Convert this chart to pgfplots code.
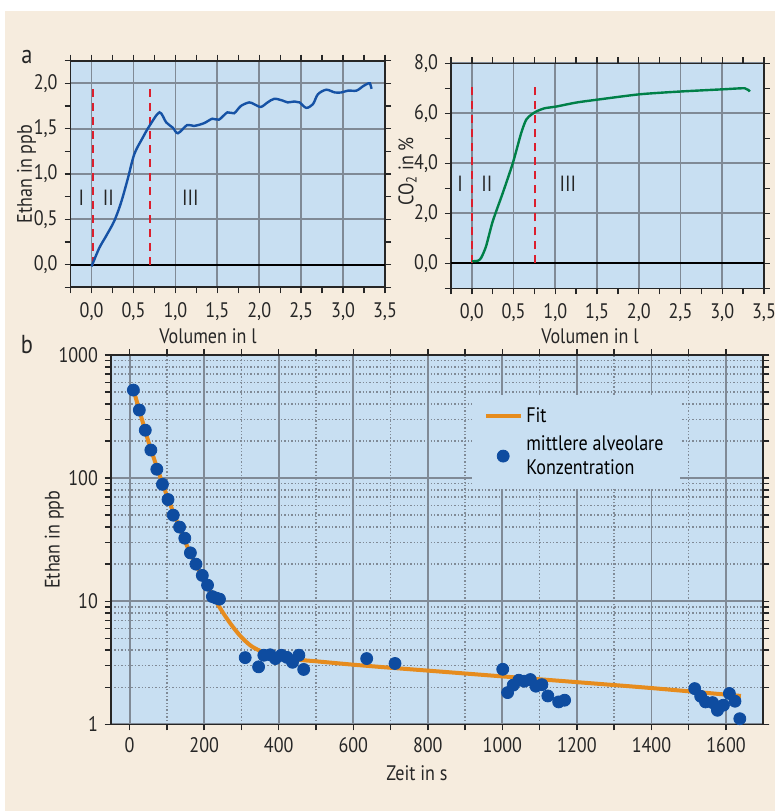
\documentclass[border=0pt]{standalone}
\usepackage{fontspec}
\setmainfont{PT Sans}[FakeStretch=0.86]
\usepackage{pgfplots}
\pgfplotsset{compat=1.18}
\definecolor{bgbeige}{RGB}{246,236,222}
\definecolor{axisblue}{RGB}{200,223,242}
\definecolor{gridgray}{RGB}{128,138,150}
\definecolor{curveblue}{RGB}{22,82,165}
\definecolor{curvegreen}{RGB}{0,128,72}
\definecolor{dashred}{RGB}{220,30,45}
\definecolor{fitorange}{RGB}{230,140,30}
\definecolor{dotblue}{RGB}{14,76,160}
\begin{document}
\begin{tikzpicture}[x=1pt,y=1pt]
\useasboundingbox (0,0) rectangle (387.5,405.5);
\fill[white] (0,0) rectangle (387.5,405.5);
\fill[bgbeige] (2.5,0) rectangle (387.5,400);
\pgfplotsset{
  common/.style={
    scale only axis,
    axis background/.style={fill=axisblue},
    axis line style={black!85, line width=0.8pt},
    tick style={black!85, line width=0.7pt},
    major tick length=3pt, minor tick length=3pt,
    tick align=outside,
    xtick pos=both, ytick pos=both,
    major grid style={gridgray, line width=0.9pt},
    minor grid style={gridgray, line width=0.7pt, densely dotted},
    tick label style={font=\fontsize{10.5}{12}\selectfont, black!85},
    label style={font=\fontsize{10.5}{12}\selectfont, black!85},
    /pgf/number format/assume math mode=true,
    /pgf/number format/1000 sep={},
  },
  topax/.style={
    common,
    grid=major,
    xmin=-0.25, xmax=3.5,
    xtick={0,0.5,...,3.5},
    minor xtick={-0.25,0.25,0.75,1.25,1.75,2.25,2.75,3.25},
    xticklabel style={yshift=-1pt, /pgf/number format/.cd, fixed, fixed zerofill, precision=1, use comma},
    yticklabel style={/pgf/number format/.cd, fixed, fixed zerofill, precision=1, use comma},
    xlabel={Volumen in l},
  }
}
% ---------------- a: Ethan ----------------
\begin{axis}[topax,
  at={(35.3pt,261.85pt)}, anchor=south west,
  width=157.2pt, height=113.3pt,
  ymin=-0.25, ymax=2.25,
  ytick={0,0.5,...,2.0},
  minor ytick={-0.25,0.25,0.75,1.25,1.75,2.25},
  ylabel={Ethan in ppb},
  ylabel style={at={(axis description cs:-0.14,0.5)}, anchor=center},
  xlabel style={at={(axis description cs:0.437,-0.215)}, anchor=center},
]
\addplot[black, line width=0.9pt] coordinates {(-0.25,0) (3.5,0)};
\addplot[dashred, line width=0.9pt, dash pattern=on 4pt off 3pt] coordinates {(0.02,0) (0.02,2.0)};
\addplot[dashred, line width=0.9pt, dash pattern=on 4pt off 3pt] coordinates {(0.70,0) (0.70,2.0)};
\addplot[curveblue, line width=1.2pt, smooth, tension=0.5] coordinates {
(0.00,-0.02) (0.09,0.18) (0.17,0.31) (0.27,0.48) (0.35,0.68) (0.43,0.94)
(0.51,1.22) (0.61,1.40) (0.69,1.53) (0.81,1.68) (0.89,1.57) (0.97,1.51)
(1.03,1.45) (1.14,1.54) (1.22,1.53) (1.34,1.56) (1.44,1.61) (1.52,1.60)
(1.62,1.68) (1.70,1.67) (1.78,1.75) (1.88,1.79) (1.94,1.77) (2.02,1.74)
(2.10,1.79) (2.18,1.83) (2.28,1.81) (2.34,1.79) (2.42,1.80) (2.48,1.79)
(2.56,1.73) (2.64,1.77) (2.70,1.88) (2.80,1.93) (2.90,1.90) (2.98,1.90)
(3.06,1.92) (3.16,1.92) (3.24,1.97) (3.30,2.00) (3.32,2.00) (3.34,1.94)
};
\node[font=\fontsize{11}{13}\selectfont, black!85] at (axis cs:-0.12,0.74) {I};
\node[font=\fontsize{11}{13}\selectfont, black!85] at (axis cs:0.20,0.74) {II};
\node[font=\fontsize{11}{13}\selectfont, black!85] at (axis cs:1.18,0.74) {III};
\end{axis}
% ---------------- a: CO2 ----------------
\begin{axis}[topax,
  at={(225.5pt,261.35pt)}, anchor=south west,
  width=156.5pt, height=112.5pt,
  ymin=-1, ymax=8,
  ytick={0,2,...,8},
  minor ytick={-1,1,3,5,7},
  ylabel={CO\textsubscript{2} in \%},
  ylabel style={at={(axis description cs:-0.139,0.52)}, anchor=center},
  xlabel style={at={(axis description cs:0.444,-0.215)}, anchor=center},
]
\addplot[black, line width=0.9pt] coordinates {(-0.25,0) (3.5,0)};
\addplot[dashred, line width=0.9pt, dash pattern=on 4pt off 3pt] coordinates {(0.0,0) (0.0,7.2)};
\addplot[dashred, line width=0.9pt, dash pattern=on 4pt off 3pt] coordinates {(0.76,0) (0.76,7.2)};
\addplot[curvegreen, line width=1.2pt, smooth, tension=0.4] coordinates {
(0.00,0.08) (0.07,0.10) (0.11,0.21) (0.17,0.68) (0.25,1.68) (0.37,2.81)
(0.49,4.00) (0.59,5.20) (0.65,5.74) (0.71,5.94) (0.77,6.07) (0.87,6.20)
(1.01,6.27) (1.25,6.43) (1.49,6.54) (2.01,6.76) (2.49,6.87) (3.01,6.96)
(3.27,7.00) (3.33,6.87)
};
\node[font=\fontsize{11}{13}\selectfont, black!85] at (axis cs:-0.14,3.2) {I};
\node[font=\fontsize{11}{13}\selectfont, black!85] at (axis cs:0.18,3.2) {II};
\node[font=\fontsize{11}{13}\selectfont, black!85] at (axis cs:1.15,3.2) {III};
\end{axis}
% ---------------- b ----------------
\begin{axis}[common,
  at={(55.5pt,43.35pt)}, anchor=south west,
  width=326.15pt, height=184.65pt,
  ymode=log, ymin=1, ymax=1000,
  xmin=-50, xmax=1700,
  xtick={0,200,...,1600},
  minor xtick={100,300,...,1500},
  ytick={1,10,100,1000}, yticklabels={1,10,100,1000},
  grid=both,
  xlabel={Zeit in s}, ylabel={Ethan in ppb},
  ylabel style={at={(axis description cs:-0.087,0.5)}, anchor=center},
  xlabel style={at={(axis description cs:0.469,-0.132)}, anchor=center},
  legend style={at={(0.553,0.892)}, anchor=north west, fill=axisblue, draw=none,
    font=\fontsize{10.5}{12}\selectfont, cells={anchor=west, align=left},
    inner xsep=6pt, inner ysep=4pt, row sep=1pt},
]
\addplot[fitorange, line width=2pt, smooth, tension=0.5] coordinates {
(10,525) (25,365) (50,200) (75,118) (100,72) (125,46) (150,30) (175,20.5)
(200,14.8) (225,10.8) (250,8.1) (275,6.3) (300,5.1) (325,4.35) (350,3.95)
(375,3.7) (400,3.52) (450,3.35) (500,3.25) (600,3.05) (700,2.88) (800,2.73)
(1000,2.45) (1200,2.2) (1400,1.97) (1640,1.70)
};
\addlegendentry{Fit}
\addplot[only marks, mark=*, mark size=3pt, mark options={draw=dotblue, fill=dotblue}] coordinates {
(10,519) (26,357) (42,245) (57,169) (73,118) (88,89) (103,67) (117,50)
(134,40) (148,32.5) (163,24.7) (178,20) (195,16.2) (209,13.5)
(222,10.9) (232,10.6) (241,10.4)
(310,3.48) (346,2.93) (360,3.64) (377,3.67) (391,3.42) (407,3.64) (422,3.5)
(437,3.19) (454,3.64) (467,2.79)
(636,3.42) (712,3.12)
(1001,2.8) (1014,1.81) (1029,2.08) (1044,2.28) (1059,2.24) (1075,2.31)
(1090,2.04) (1106,2.1) (1122,1.70) (1151,1.52) (1167,1.57)
(1516,1.95) (1532,1.69) (1545,1.52) (1564,1.5) (1577,1.30) (1593,1.43)
(1609,1.78) (1624,1.54) (1637,1.11)
};
\addlegendentry{mittlere alveolare\\Konzentration}
\end{axis}
\node[font=\fontsize{13}{15}\selectfont, black!85] at (13.5,377) {a};
\node[font=\fontsize{13}{15}\selectfont, black!85] at (13.5,233) {b};
\end{tikzpicture}
\end{document}
